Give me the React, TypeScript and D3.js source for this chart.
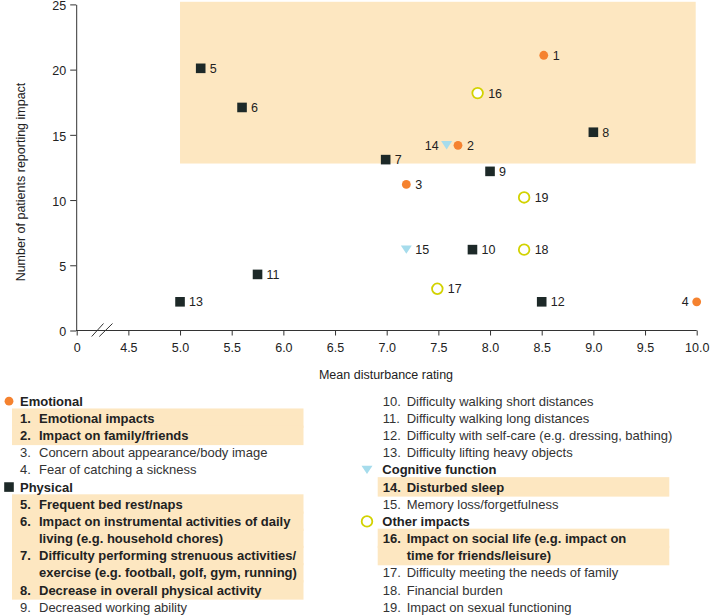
import React, { useEffect, useRef } from "react";
import * as d3 from "d3";

// ---------- data ----------
const itemIds = [1, 2, 3, 4, 5, 6, 7, 8, 9, 10, 11, 12, 13, 14, 15, 16, 17, 18, 19];
const meanRating = [8.52, 7.69, 7.19, 10.0, 5.2, 5.6, 6.99, 9.0, 8.0, 7.83, 5.75, 8.5, 5.0, 7.58, 7.19, 7.88, 7.49, 8.33, 8.33];
const patients = [21.1, 14.2, 11.2, 2.2, 20.1, 17.1, 13.1, 15.2, 12.2, 6.2, 4.3, 2.2, 2.2, 14.2, 6.2, 18.2, 3.2, 6.2, 10.2];
const itemCategory = [0, 0, 0, 0, 1, 1, 1, 1, 1, 1, 1, 1, 1, 2, 2, 3, 3, 3, 3];
const labelLeft = [14, 4];
const categories = ["Emotional", "Physical", "Cognitive function", "Other impacts"];
const itemText: string[][] = [
  ["Emotional impacts"],
  ["Impact on family/friends"],
  ["Concern about appearance/body image"],
  ["Fear of catching a sickness"],
  ["Frequent bed rest/naps"],
  ["Impact on instrumental activities of daily", "living (e.g. household chores)"],
  ["Difficulty performing strenuous activities/", "exercise (e.g. football, golf, gym, running)"],
  ["Decrease in overall physical activity"],
  ["Decreased working ability"],
  ["Difficulty walking short distances"],
  ["Difficulty walking long distances"],
  ["Difficulty with self-care (e.g. dressing, bathing)"],
  ["Difficulty lifting heavy objects"],
  ["Disturbed sleep"],
  ["Memory loss/forgetfulness"],
  ["Impact on social life (e.g. impact on", "time for friends/leisure)"],
  ["Difficulty meeting the needs of family"],
  ["Financial burden"],
  ["Impact on sexual functioning"],
];
const highlightedItems = [1, 2, 5, 6, 7, 8, 14, 16];
const xTicks = [4, 4.5, 5, 5.5, 6, 6.5, 7, 7.5, 8, 8.5, 9, 9.5, 10];
const yTicks = [0, 5, 10, 15, 20, 25];
const highlightX = [5, 10];
const highlightY = [12.8, 25.2];

// ---------- styles ----------
const W = 710;
const H = 616;
const FONT = "'Liberation Sans', Arial, Helvetica, sans-serif";
const ORANGE = "#f5822f";
const DARK = "#1d2928";
const CYAN = "#a6dcec";
const YELLOW = "#d2d200";
const PEACH = "#fde7c1";
const TEXT = "#222";

const x = d3.scaleLinear().domain([4, 10]).range([76.7, 696.7]);
const y = d3.scaleLinear().domain([0, 25]).range([330.5, 4.4]);

function Marker({ cat, cx, cy }: { cat: number; cx: number; cy: number }) {
  if (cat === 0) return <circle cx={cx} cy={cy} r={4.4} fill={ORANGE} />;
  if (cat === 1) return <rect x={cx - 4.8} y={cy - 4.8} width={9.6} height={9.6} fill={DARK} />;
  if (cat === 2)
    return (
      <path
        d={`M${cx - 5.5},${cy - 4.2} L${cx + 5.5},${cy - 4.2} L${cx},${cy + 4.2} Z`}
        fill={CYAN}
      />
    );
  return <circle cx={cx} cy={cy} r={5.3} fill="#fff" stroke={YELLOW} strokeWidth={1.8} />;
}

type Row =
  | { kind: "header"; cat: number }
  | { kind: "item"; id: number; line: number; text: string };

function buildRows(): Row[] {
  const rows: Row[] = [];
  categories.forEach((_, c) => {
    rows.push({ kind: "header", cat: c });
    itemIds.forEach((id, i) => {
      if (itemCategory[i] !== c) return;
      itemText[i].forEach((t, li) => rows.push({ kind: "item", id, line: li, text: t }));
    });
  });
  return rows;
}

const columns = [
  { markerX: 9, headerX: 20, numX: 20, textX: 39, hlX: 12, hlW: 291.5 },
  { markerX: 367, headerX: 382.3, numX: 382.7, textX: 406.7, hlX: 377.7, hlW: 291.6 },
];
const ROW0 = 405.7;
const PITCH = 17.17;
const ROWS_PER_COL = 13;

export default function App() {
  const xAxisRef = useRef<SVGGElement>(null);
  const yAxisRef = useRef<SVGGElement>(null);

  useEffect(() => {
    const xa = d3
      .axisBottom(x)
      .tickValues(xTicks)
      .tickSize(5)
      .tickSizeOuter(0)
      .tickPadding(8)
      .tickFormat((d) => ((d as number) === 4 ? "0" : d3.format(".1f")(d as number)));
    const gx = d3.select(xAxisRef.current!);
    gx.call(xa as any);
    gx.select(".domain").attr("stroke", "#333").attr("d", `M${x(4) - 0.7},0H${x(10)}`);
    gx.selectAll(".tick line").attr("stroke", "#333");
    gx.selectAll(".tick text").attr("fill", TEXT).style("font-size", "12.5px").style("font-family", FONT);
    gx.attr("font-family", null).attr("font-size", null);

    const ya = d3.axisLeft(y).tickValues(yTicks).tickSize(6).tickSizeOuter(0).tickPadding(4);
    const gy = d3.select(yAxisRef.current!);
    gy.call(ya as any);
    gy.select(".domain").attr("stroke", "#333");
    gy.selectAll(".tick line").attr("stroke", "#333");
    gy.selectAll(".tick text")
      .attr("fill", TEXT)
      .attr("dy", "0.42em")
      .style("font-size", "12.5px")
      .style("font-family", FONT);
    gy.attr("font-family", null).attr("font-size", null);
  }, []);

  const rows = buildRows();
  const axisY = y(0);

  return (
    <svg
      width={W}
      height={H}
      style={{ position: "absolute", left: 0, top: 0, background: "#fff" }}
      fontFamily={FONT}
    >
      {/* highlighted region */}
      <rect
        x={x(highlightX[0])}
        y={y(highlightY[1])}
        width={x(highlightX[1]) - x(highlightX[0]) - 1}
        height={y(highlightY[0]) - y(highlightY[1])}
        fill={PEACH}
      />

      <g ref={xAxisRef} transform={`translate(0,${axisY})`} />
      <g ref={yAxisRef} transform={`translate(${x(4) - 0.5},0)`} />

      {/* axis break */}
      <g stroke="#333" strokeWidth={1}>
        <line x1={91.7} y1={axisY + 6} x2={103.5} y2={axisY - 7} />
        <line x1={99.3} y1={axisY + 6} x2={112.5} y2={axisY - 7} />
      </g>

      {/* axis titles */}
      <text x={386} y={379} textAnchor="middle" fontSize={12.5} fill={TEXT}>
        Mean disturbance rating
      </text>
      <text
        transform={`translate(25,182) rotate(-90)`}
        textAnchor="middle"
        fontSize={12.5}
        fill={TEXT}
      >
        Number of patients reporting impact
      </text>

      {/* points */}
      {itemIds.map((id, i) => {
        const cx = x(meanRating[i]);
        const cy = y(patients[i]);
        const cat = itemCategory[i];
        const left = labelLeft.includes(id);
        const off = cat === 3 ? 10.5 : 9;
        return (
          <g key={id}>
            <Marker cat={cat} cx={cx} cy={cy} />
            <text
              x={left ? cx - 8 : cx + off}
              y={cy}
              dy="0.36em"
              textAnchor={left ? "end" : "start"}
              fontSize={12.5}
              fill={TEXT}
            >
              {id}
            </text>
          </g>
        );
      })}

      {/* legend highlights */}
      {rows.map((r, k) => {
        if (r.kind !== "item" || !highlightedItems.includes(r.id)) return null;
        const col = columns[k < ROWS_PER_COL ? 0 : 1];
        const base = ROW0 + (k % ROWS_PER_COL) * PITCH;
        return (
          <rect
            key={`h${k}`}
            x={col.hlX}
            y={base - 14.4}
            width={col.hlW}
            height={PITCH + 2.3}
            fill={PEACH}
          />
        );
      })}

      {/* legend text */}
      {rows.map((r, k) => {
        const col = columns[k < ROWS_PER_COL ? 0 : 1];
        const base = ROW0 + (k % ROWS_PER_COL) * PITCH;
        if (r.kind === "header") {
          return (
            <g key={`r${k}`}>
              <Marker cat={r.cat} cx={col.markerX} cy={base - 4.5} />
              <text x={col.headerX} y={base} fontSize={13} fontWeight="bold" fill={TEXT}>
                {categories[r.cat]}
              </text>
            </g>
          );
        }
        const bold = highlightedItems.includes(r.id);
        return (
          <g key={`r${k}`} fontSize={13} fontWeight={bold ? "bold" : "normal"} fill={bold ? TEXT : "#333"}>
            {r.line === 0 && (
              <text x={col.numX} y={base}>
                {`${r.id}.`}
              </text>
            )}
            <text x={col.textX} y={base}>
              {r.text}
            </text>
          </g>
        );
      })}
    </svg>
  );
}
